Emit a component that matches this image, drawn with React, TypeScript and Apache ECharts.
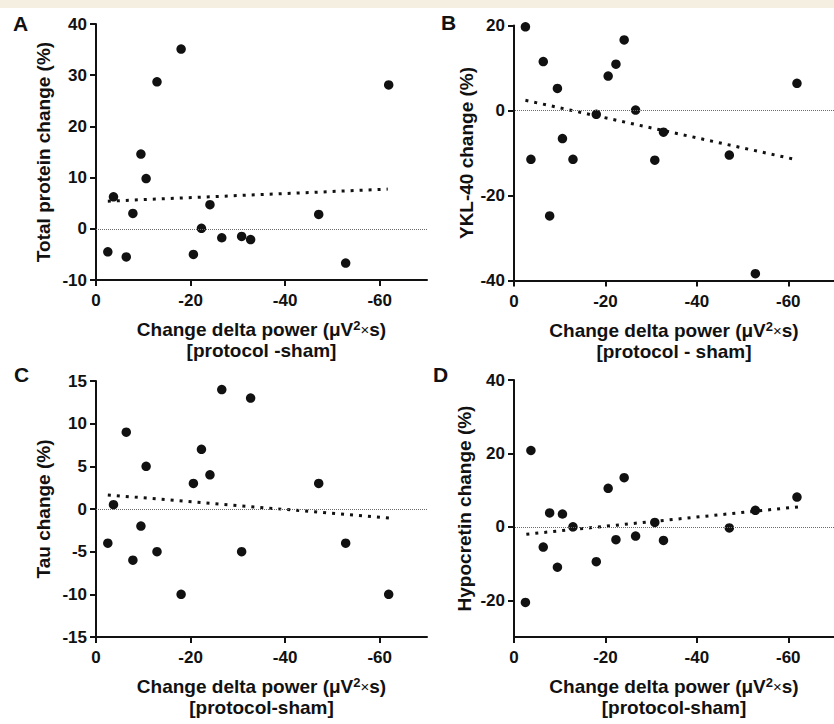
import React, { useEffect, useRef } from "react";
import * as echarts from "echarts";

// Shared x values: change in delta power (protocol - sham)
const deltaPower = [-2.5, -3.7, -6.4, -7.8, -9.5, -10.6, -12.9, -18.0, -20.6, -22.3, -24.1, -26.6, -30.8, -32.7, -47.1, -52.8, -61.9];

// Panel values
const totalProtein = [-4.5, 6.25, -5.5, 3.0, 14.6, 9.8, 28.7, 35.1, -5.0, 0.1, 4.7, -1.75, -1.5, -2.1, 2.8, -6.7, 28.1];
const ykl40 = [19.7, -11.5, 11.5, -24.8, 5.2, -6.6, -11.5, -0.9, 8.1, 10.9, 16.6, 0.1, -11.7, -5.1, -10.5, -38.4, 6.4];
const tau = [-4, 0.5, 9, -6, -2, 5, -5, -10, 3, 7, 4, 14, -5, 13, 3, -4, -10];
const hypocretin = [-20.6, 20.8, -5.5, 3.8, -11.0, 3.5, 0, -9.5, 10.5, -3.5, 13.4, -2.5, 1.2, -3.7, -0.3, 4.5, 8.1];

// Regression line end points
const trendXA = [-2.5, -61.7];
const trendA = [5.4, 7.75];
const trendXB = [-2.5, -61.9];
const trendB = [2.4, -11.6];
const trendXC = [-2.5, -62.0];
const trendC = [1.65, -1.05];
const trendXD = [-2.7, -62.2];
const trendD = [-2.0, 5.45];

// Tick labels
const xTicks = [0, -20, -40, -60];
const yTicksA = [-10, 0, 10, 20, 30, 40];
const yTicksB = [-40, -20, 0, 20];
const yTicksC = [-15, -10, -5, 0, 5, 10, 15];
const yTicksD = [-20, 0, 20, 40];

const panelLetters = ["A", "B", "C", "D"];
const yNames = ["Total protein change (%)", "YKL-40 change (%)", "Tau change (%)", "Hypocretin change (%)"];
const xNameLine1 = "{t|Change delta power (μV}{sup|2}{x|×}{t|s)}";
const xNameLine2 = ["[protocol -sham]", "[protocol - sham]", "[protocol-sham]", "[protocol-sham]"];

const FONT = "'Liberation Sans', Arial, Helvetica, sans-serif";
const INK = "#111";

export default function App() {
  const ref = useRef<HTMLDivElement>(null);

  useEffect(() => {
    if (!ref.current) return;
    const chart = echarts.init(ref.current, null, { renderer: "svg" });

    const grids = [
      { left: 96, top: 24, width: 331, height: 256 },
      { left: 514, top: 25.5, width: 331, height: 255 },
      { left: 96, top: 381, width: 331, height: 256 },
      { left: 514, top: 380, width: 331, height: 257 },
    ];
    const yRanges = [
      { min: -10, max: 40, ticks: yTicksA, gap: 43 },
      { min: -40, max: 20, ticks: yTicksB, gap: 38 },
      { min: -15, max: 15, ticks: yTicksC, gap: 43 },
      { min: -30, max: 40, ticks: yTicksD, gap: 40 },
    ];
    const values = [totalProtein, ykl40, tau, hypocretin];
    const trends = [
      [trendXA, trendA],
      [trendXB, trendB],
      [trendXC, trendC],
      [trendXD, trendD],
    ];

    const axisLine = { show: true, onZero: false, lineStyle: { color: INK, width: 2 } };
    const axisTick = { show: true, length: 6, lineStyle: { color: INK, width: 2 } };
    const labelStyle = { color: INK, fontSize: 17, fontWeight: "bold" as const, fontFamily: FONT };
    const nameBase = { color: INK, fontSize: 19, fontWeight: "bold" as const, fontFamily: FONT, lineHeight: 21 };
    const zeroStyle = { color: "#6a6a6a", width: 1.1, type: [1, 1], opacity: 1 };

    const xAxis = grids.map((_, i) => ({
      type: "value",
      gridIndex: i,
      min: -70,
      max: 0,
      inverse: true,
      splitLine: { show: false },
      axisLine,
      axisTick: { ...axisTick, customValues: xTicks },
      axisLabel: { ...labelStyle, margin: 12, customValues: xTicks },
      name: xNameLine1 + "\n{t|" + xNameLine2[i] + "}",
      nameLocation: "middle",
      nameGap: 39,
      nameTextStyle: {
        ...nameBase,
        verticalAlign: "top",
        rich: {
          t: { ...nameBase },
          sup: { ...nameBase, fontSize: 13, lineHeight: 21, verticalAlign: "top" },
          x: { ...nameBase, fontSize: 15, fontWeight: "normal" },
        },
      },
    }));

    const yAxis = grids.map((_, i) => ({
      type: "value",
      gridIndex: i,
      min: yRanges[i].min,
      max: yRanges[i].max,
      splitLine: { show: false },
      axisLine,
      axisTick: { ...axisTick, customValues: yRanges[i].ticks },
      axisLabel: { ...labelStyle, margin: 9, customValues: yRanges[i].ticks },
      name: yNames[i],
      nameLocation: "middle",
      nameGap: yRanges[i].gap,
      nameTextStyle: { color: INK, fontSize: 19, fontWeight: "bold", fontFamily: FONT },
    }));

    const series: any[] = [];
    for (let i = 0; i < 4; i++) {
      const [tx, ty] = trends[i];
      series.push({
        type: "line",
        xAxisIndex: i,
        yAxisIndex: i,
        data: tx.map((x, k) => [x, ty[k]]),
        symbol: "none",
        lineStyle: { color: INK, width: 3, type: [3, 6], cap: "butt" },
        itemStyle: { color: "#6a6a6a" },
        z: 2,
        markLine: {
          silent: true,
          symbol: ["none", "none"],
          label: { show: false },
          lineStyle: zeroStyle,
          emphasis: { disabled: true },
          data: [{ yAxis: 0, lineStyle: zeroStyle }],
        },
      });
      series.push({
        type: "scatter",
        xAxisIndex: i,
        yAxisIndex: i,
        data: deltaPower.map((x, k) => [x, values[i][k]]),
        symbol: "circle",
        symbolSize: 9.5,
        itemStyle: { color: INK, opacity: 1 },
        z: 3,
      });
    }

    const letterPos = [
      [13, 13],
      [441, 12],
      [14, 364],
      [433, 364],
    ];

    chart.setOption({
      animation: false,
      backgroundColor: "#ffffff",
      textStyle: { fontFamily: FONT },
      grid: grids.map((g) => ({ ...g, containLabel: false })),
      xAxis,
      yAxis,
      series,
      graphic: [
        { type: "rect", left: 0, top: 0, shape: { width: 834, height: 8 }, style: { fill: "#f4efe0" }, silent: true },
        ...panelLetters.map((t, i) => ({
          type: "text",
          x: letterPos[i][0],
          y: letterPos[i][1],
          style: { text: t, fill: INK, font: `bold 21px ${FONT}` },
        })),
      ],
    });

    return () => chart.dispose();
  }, []);

  return <div ref={ref} style={{ position: "absolute", left: 0, top: 0, width: 834, height: 724 }} />;
}
